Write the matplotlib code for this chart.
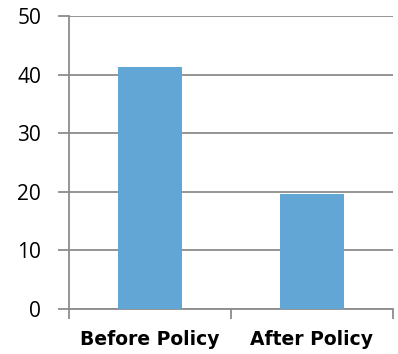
import matplotlib
matplotlib.use("Agg")
import matplotlib.pyplot as plt
from matplotlib.ticker import FixedLocator

categories = ["Before Policy", "After Policy"]
values = [41.3, 19.6]
yticks = [0, 10, 20, 30, 40, 50]

fig = plt.figure(figsize=(3.98, 3.54), dpi=100)
ax = fig.add_axes([69 / 398, 1 - 309 / 354, 324 / 398, 293 / 354])

x = range(len(categories))
ax.bar(x, values, width=0.4, color="#62a6d5", zorder=3)

ax.set_xlim(-0.5, 1.5)
ax.set_ylim(0, 50)
ax.set_yticks(yticks)
ax.set_yticklabels([str(t) for t in yticks], fontsize=15, family="Open Sans")
ax.yaxis.grid(True, color="#8c8c8c", linewidth=1.3, zorder=0)

# category labels centred, tick marks on the boundaries
ax.set_xticks(list(x))
ax.set_xticklabels(categories, fontsize=13.5, fontweight="bold", family="DejaVu Sans")
ax.xaxis.set_minor_locator(FixedLocator([-0.5, 0.5, 1.5]))
ax.tick_params(axis="x", which="major", length=0, pad=15)
ax.tick_params(axis="x", which="minor", length=7, width=1.3, color="#8c8c8c")
ax.tick_params(axis="y", length=8, width=1.3, color="#8c8c8c", pad=12)

for side in ["top", "right"]:
    ax.spines[side].set_visible(False)
for side in ["left", "bottom"]:
    ax.spines[side].set_color("#8c8c8c")
    ax.spines[side].set_linewidth(1.3)

fig.savefig("out.png", dpi=100)
